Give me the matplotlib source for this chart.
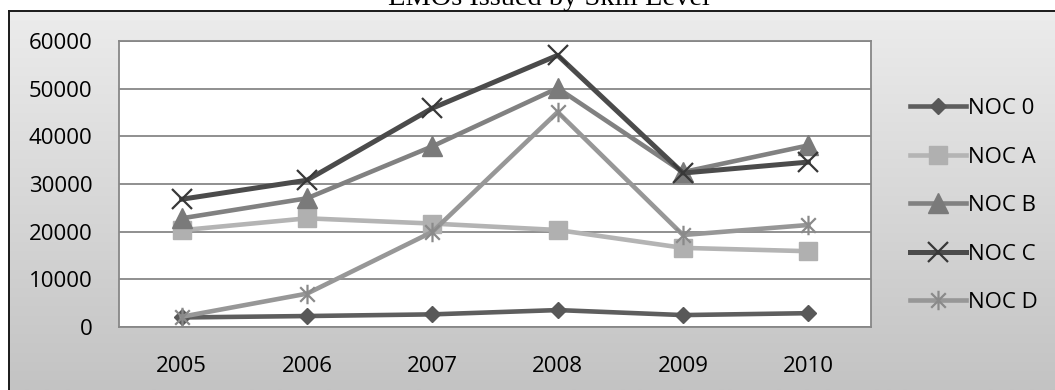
import numpy as np
import matplotlib
matplotlib.use("Agg")
import matplotlib.pyplot as plt
from matplotlib.path import Path

plt.rcParams['font.family'] = ['Open Sans', 'DejaVu Sans']

years = ['2005', '2006', '2007', '2008', '2009', '2010']
noc_0 = [2000, 2300, 2650, 3550, 2500, 2900]
noc_a = [20300, 22800, 21700, 20350, 16600, 15900]
noc_b = [22800, 27000, 37900, 50100, 32500, 38100]
noc_c = [26800, 30800, 45900, 57000, 32300, 34600]
noc_d = [2150, 7000, 19950, 45100, 19300, 21400]
labels = ['NOC 0', 'NOC A', 'NOC B', 'NOC C', 'NOC D']

W, H = 1055, 390
fig = plt.figure(figsize=(W / 100, H / 100), dpi=100)
fig.patch.set_facecolor('white')

# gradient panel with dark frame (right/bottom edges fall outside the image)
bg = fig.add_axes([9 / W, 0, 1 - 9 / W, 1 - 11 / H])
grad = np.linspace(236, 195, 256).reshape(-1, 1) / 255
bg.imshow(np.dstack([grad, grad, grad]), aspect='auto', extent=[0, 1, 0, 1])
bg.set_xticks([])
bg.set_yticks([])
for s in ['right', 'bottom']:
    bg.spines[s].set_visible(False)
for s in ['left', 'top']:
    bg.spines[s].set_color('#1a1a1a')
    bg.spines[s].set_linewidth(1.4)

# title sits partly above the top edge, as in the original
fig.text(549 / W, 1 - 5 / H, 'EMOs Issued by Skill Level', family='Liberation Serif',
         fontsize=20.5, ha='center', va='baseline', color='black')

ax = fig.add_axes([119 / W, 1 - 327 / H, (871 - 119) / W, (327 - 41) / H])
ax.set_facecolor('white')

star = Path([(0, -1), (0, 1), (-0.75, -0.75), (0.75, 0.75), (-0.75, 0.75), (0.75, -0.75)],
            [Path.MOVETO, Path.LINETO] * 3)

x = np.arange(len(years))
ax.plot(x, noc_0, color='#5e5e5e', lw=3.3, marker='D', ms=8, mfc='#585858', mec='#585858',
        label=labels[0])
ax.plot(x, noc_a, color='#b4b4b4', lw=3.3, marker='s', ms=13, mfc='#b0b0b0', mec='#b0b0b0',
        label=labels[1])
ax.plot(x, noc_b, color='#818181', lw=3.3, marker='^', ms=14, mfc='#7a7a7a', mec='#7a7a7a',
        label=labels[2])
ax.plot(x, noc_c, color='#4b4b4b', lw=3.6, marker='x', ms=14, mew=1.6, mec='#383838',
        label=labels[3])
ax.plot(x, noc_d, color='#979797', lw=3.3, marker=star, ms=14, mew=1.6, mec='#8a8a8a',
        label=labels[4])

ax.set_xlim(-0.5, 5.5)
ax.set_ylim(0, 60000)
ax.set_yticks(range(0, 60001, 10000))
ax.set_xticks(x)
ax.set_xticklabels(years)
ax.tick_params(length=0, labelsize=16, colors='black')
ax.tick_params(axis='y', pad=19)
ax.tick_params(axis='x', pad=21)
ax.grid(axis='y', color='#878787', lw=1.3)
ax.set_axisbelow(True)
for s in ax.spines.values():
    s.set_color('#878787')
    s.set_linewidth(1.3)

fig.legend(loc='upper left', bbox_to_anchor=(910 / W, 1 - 98 / H), frameon=False,
           fontsize=16, handlelength=2.5, handletextpad=0.1, labelspacing=1.24,
           borderpad=0, borderaxespad=0)

fig.savefig('out.png', dpi=100)
